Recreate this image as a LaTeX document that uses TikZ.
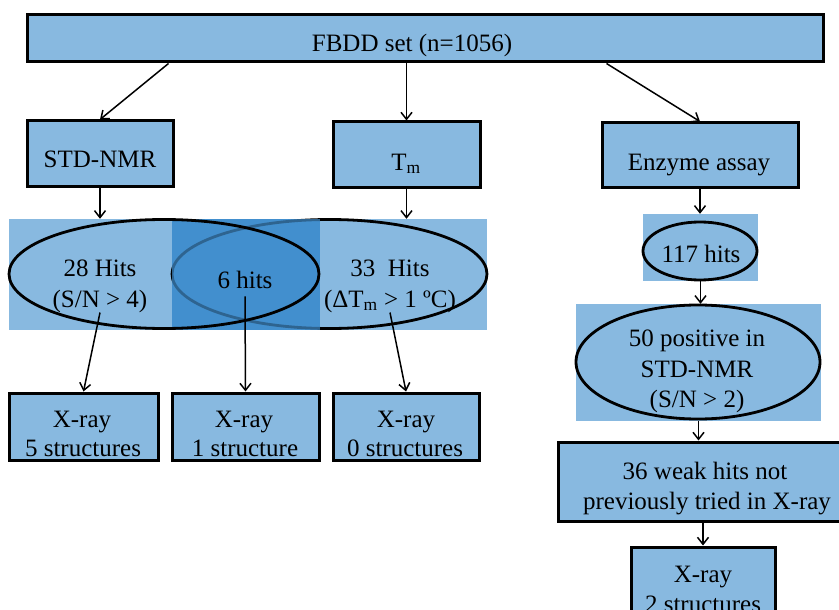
\documentclass[tikz,border=0pt]{standalone}
\usepackage{fontspec}
\setmainfont{Liberation Serif}
\usetikzlibrary{shapes.geometric,arrows.meta,calc}
\definecolor{boxblue}{RGB}{136,185,224}
\definecolor{overlapblue}{RGB}{66,143,206}
\begin{document}
\begin{tikzpicture}[x=1pt,y=-1pt,
  box/.style={draw=black,line width=3pt,fill=boxblue,inner sep=0pt},
  band/.style={fill=#1,draw=none,inner sep=0pt},
  oval/.style={ellipse,draw=black,line width=2.8pt,inner sep=0pt},
  lbl/.style={font=\fontsize{25}{30}\selectfont,anchor=base,inner sep=0pt},
  arr/.style={-{Straight Barb[length=7pt,width=11pt,line width=1.5pt]},line width=1.5pt},
  conn/.style={line width=1.5pt}]
\useasboundingbox (0,0) rectangle (839,610);

% top level
\node[box,minimum width=796pt,minimum height=47pt] (top) at (425,38.5) {};
\node[lbl] (ltop) at (412,52) {FBDD set (n=1056)};

% screening methods
\node[box,minimum width=146pt,minimum height=65pt] (std) at (100,153.5) {};
\node[lbl] (lstd) at (100,167) {STD-NMR};
\node[box,minimum width=147pt,minimum height=65pt] (tm) at (406.5,154.5) {};
\node[lbl] (ltm) at (406,170) {T\textsubscript{m}};
\node[box,minimum width=196pt,minimum height=64pt] (enz) at (700,155) {};
\node[lbl] (lenz) at (699,170) {Enzyme assay};

% Venn band
\node[band=boxblue,minimum width=163pt,minimum height=111pt] (lbg) at (90.5,274.5) {};
\node[band=boxblue,minimum width=167pt,minimum height=111pt] (rbg) at (403.5,274.5) {};
\node[band=overlapblue,minimum width=148pt,minimum height=111pt] (mbg) at (246,274.5) {};
\node[oval,minimum width=315pt,minimum height=109pt] (rov) at (329.5,274) {};
\node[band=overlapblue,opacity=0.7,minimum width=148pt,minimum height=111pt] (mtint) at (246,274.5) {};
\node[oval,minimum width=310pt,minimum height=109pt] (lov) at (164,274) {};

\node[lbl] (l28a) at (100,276) {28 Hits};
\node[lbl] (l28b) at (100,307) {(S/N > 4)};
\node[lbl] (l6) at (245,288) {6 hits};
\node[lbl] (l33a) at (390,276) {33\ \ Hits};
\node[lbl] (l33b) at (390,307) {(ΔT\textsubscript{m} > 1 ºC)};

% X-ray results
\node[box,minimum width=149pt,minimum height=67pt] (x1) at (83.5,426.5) {};
\node[box,minimum width=147pt,minimum height=67pt] (x2) at (245.5,426.5) {};
\node[box,minimum width=146pt,minimum height=67pt] (x3) at (406,426.5) {};
\node[lbl] (x1a) at (82,427) {X-ray};
\node[lbl] (x1b) at (83,456) {5 structures};
\node[lbl] (x2a) at (244,427) {X-ray};
\node[lbl] (x2b) at (245,456) {1 structure};
\node[lbl] (x3a) at (406,427) {X-ray};
\node[lbl] (x3b) at (405,456) {0 structures};

% enzyme assay branch
\node[band=boxblue,minimum width=115pt,minimum height=67pt] (r117) at (700.5,247.5) {};
\node[oval,minimum width=114pt,minimum height=58pt] (o117) at (700,251) {};
\node[lbl] (l117) at (701,262) {117 hits};

\node[band=boxblue,minimum width=245pt,minimum height=117pt] (r50) at (698.5,362.5) {};
\node[oval,minimum width=244pt,minimum height=114pt] (o50) at (698,362) {};
\node[lbl] (l50a) at (697,346) {50 positive in};
\node[lbl] (l50b) at (697,377) {STD-NMR};
\node[lbl] (l50c) at (697,407) {(S/N > 2)};

\node[box,minimum width=296pt,minimum height=79pt] (w36) at (706,481.5) {};
\node[lbl] (l36a) at (705,479) {36 weak hits not};
\node[lbl] (l36b) at (707,509) {previously tried in X-ray};

\node[box,minimum width=144pt,minimum height=80pt] (x4) at (703,587) {};
\node[lbl] (x4a) at (703,582) {X-ray};
\node[lbl] (x4b) at (703,612) {2 structures};

% connectors
\draw[arr] ([xshift=143pt]top.south west) -- (std.north);
\draw[arr] (top.south -| tm.north) -- (tm.north);
\draw[arr] ([xshift=581pt]top.south west) -- (enz.north);
\draw[arr] (std.south) -- (std.south |- lbg.north);
\draw[arr] (tm.south) -- (tm.south |- rbg.north);
\draw[arr] (l28b.south) -- (x1.north);
\draw[arr] ([yshift=-8pt]l6.south) -- (x2.north);
\draw[arr] (l33b.south) -- (x3.north);
\draw[arr] (enz.south) -- (enz.south |- r117.north);
\draw[arr] (r117.south) -- (r117.south |- r50.north);
\draw[arr] (r50.south) -- (r50.south |- w36.north);
\draw[arr] (x4.north |- w36.south) -- (x4.north);
\end{tikzpicture}
\end{document}
